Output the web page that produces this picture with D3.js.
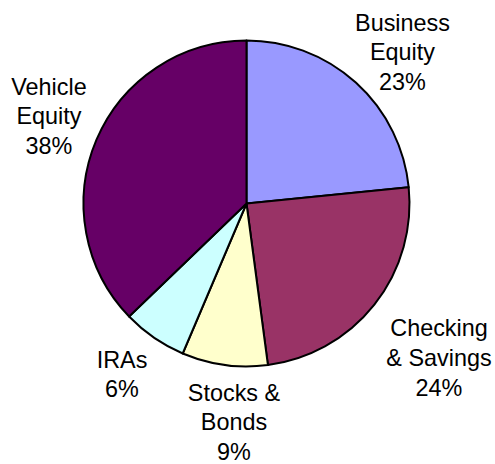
<!DOCTYPE html>
<html>
<head>
<meta charset="utf-8">
<script src="https://cdn.jsdelivr.net/npm/d3@7"></script>
<style>
  html, body { margin: 0; padding: 0; background: #fff; }
  svg { display: block; }
</style>
</head>
<body>
<div id="chart"></div>
<script>
// slices, clockwise from 12 o'clock
const categories = ["Business Equity", "Checking & Savings", "Stocks & Bonds", "IRAs", "Vehicle Equity"];
const shares = [23.4, 24.5, 8.5, 6.4, 37.2];
const pctLabels = ["23%", "24%", "9%", "6%", "38%"];
const labelLines = [["Business", "Equity"], ["Checking", "& Savings"], ["Stocks &", "Bonds"], ["IRAs"], ["Vehicle", "Equity"]];
const colors = ["#9999ff", "#993366", "#ffffcc", "#ccffff", "#660066"];

// where each label block sits (x centre, baseline of first line)
const labelAnchor = [[402.5, 30.5], [439, 336], [234, 400.5], [122, 367.5], [49, 94.5]];

const width = 495, height = 464;
const cx = 246.5, cy = 203.5, radius = 163;
const lineH = 29.8;

const svg = d3.select("#chart").append("svg")
    .attr("width", width)
    .attr("height", height);

const data = categories.map((c, i) => ({ name: c, value: shares[i], i: i }));

const pie = d3.pie()
    .sort(null)
    .value(d => d.value);

const arc = d3.arc()
    .innerRadius(0)
    .outerRadius(radius);

const g = svg.append("g")
    .attr("transform", `translate(${cx},${cy})`);

g.selectAll("path")
    .data(pie(data))
    .enter()
    .append("path")
    .attr("d", arc)
    .attr("fill", d => colors[d.data.i])
    .attr("stroke", "#000")
    .attr("stroke-width", 2)
    .attr("stroke-linejoin", "round");

const labels = svg.append("g")
    .attr("font-family", "Arial, 'Liberation Sans', Helvetica, sans-serif")
    .attr("font-size", "23.4px")
    .attr("fill", "#000")
    .attr("text-anchor", "middle");

data.forEach((d, i) => {
    const lines = labelLines[i].concat([pctLabels[i]]);
    const t = labels.append("text")
        .attr("x", labelAnchor[i][0])
        .attr("y", labelAnchor[i][1]);
    lines.forEach((ln, k) => {
        t.append("tspan")
            .attr("x", labelAnchor[i][0])
            .attr("y", labelAnchor[i][1] + k * lineH)
            .text(ln);
    });
});
</script>
</body>
</html>
